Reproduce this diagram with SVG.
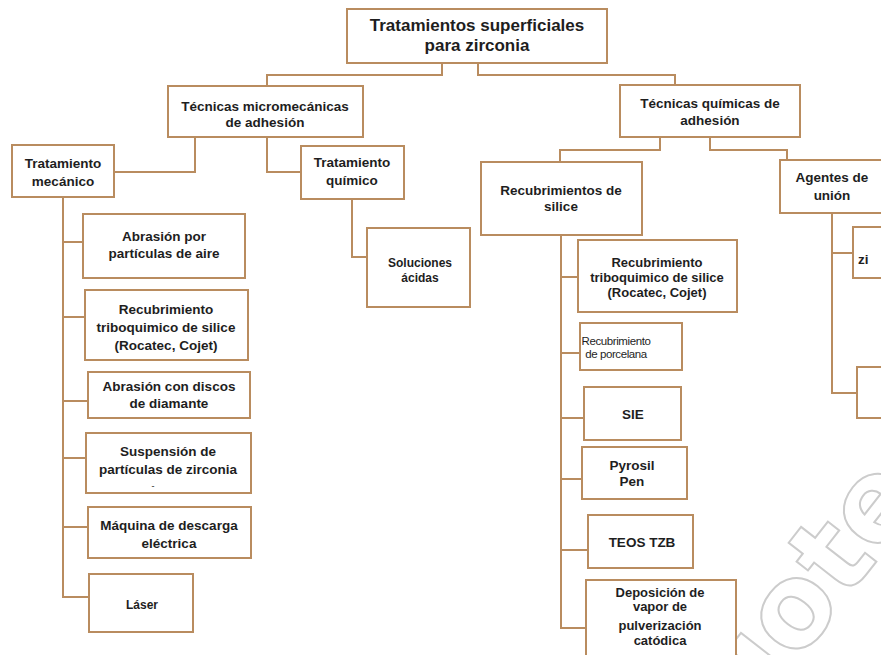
<svg xmlns="http://www.w3.org/2000/svg" width="881" height="655" viewBox="0 0 881 655">
<style>
.b{fill:#fff;stroke:#b98c5f;stroke-width:2}
.c{fill:none;stroke:#b98c5f;stroke-width:2}
text{font-family:"Liberation Sans",Arial,sans-serif;font-weight:bold;fill:#1e1e1e;text-anchor:middle}
.t1{font-size:17px}
.t2{font-size:13.5px}
.t3{font-size:12px}
.t5{font-size:13px}
.t4{font-size:11.5px;font-weight:normal;letter-spacing:-0.4px}
.wm{font-family:"DejaVu Sans",sans-serif;font-size:115px;font-weight:bold;fill:#fff;stroke:#cccccc;stroke-width:2;text-anchor:start}
</style>
<rect width="881" height="655" fill="#fff"/>
<text class="wm" transform="translate(748,726) rotate(-52)">lioteca</text>
<g id="connectors">
<path class="c" d="M442,63V75H267V86"/>
<path class="c" d="M478,63V75H675V86"/>
<path class="c" d="M195,137V172H114"/>
<path class="c" d="M267,137V172H301"/>
<path class="c" d="M660,137V150H560V162"/>
<path class="c" d="M710,137V150H787V160"/>
<path class="c" d="M63,197V597H89M63,242H83M63,317H85M63,401H88M63,458H86M63,527H88"/>
<path class="c" d="M352,199V257H367"/>
<path class="c" d="M561,235V628H586M561,277H578M561,353H580M561,418H584M561,479H582M561,550H588"/>
<path class="c" d="M832,213V393H857M832,253H853"/>
</g>
<g id="root"><rect class="b" x="347" y="9" width="260" height="54"/><text class="t1" x="477" y="31">Tratamientos superficiales</text><text class="t1" x="477" y="51">para zirconia</text></g>
<g id="micro"><rect class="b" x="168" y="86" width="195" height="51"/><text class="t2" x="265" y="111">Técnicas micromecánicas</text><text class="t2" x="265" y="127">de adhesión</text></g>
<g id="quimicas"><rect class="b" x="620" y="85" width="180" height="52"/><text class="t2" x="710" y="108">Técnicas químicas de</text><text class="t2" x="710" y="125">adhesión</text></g>
<g id="mecanico"><rect class="b" x="12" y="145" width="102" height="52"/><text class="t2" x="63" y="168">Tratamiento</text><text class="t2" x="63" y="186">mecánico</text></g>
<g id="quimico"><rect class="b" x="301" y="146" width="103" height="53"/><text class="t2" x="352" y="167">Tratamiento</text><text class="t2" x="352" y="185">químico</text></g>
<g id="recubrimientos"><rect class="b" x="481" y="162" width="161" height="73"/><text class="t2" x="561" y="195">Recubrimientos de</text><text class="t2" x="561" y="211">silice</text></g>
<g id="agentes"><rect class="b" x="780" y="160" width="110" height="53"/><text class="t2" x="832" y="182">Agentes de</text><text class="t2" x="832" y="200">unión</text></g>
<g id="abrasion-aire"><rect class="b" x="83" y="214" width="162" height="64"/><text class="t2" x="164" y="241">Abrasión por</text><text class="t2" x="164" y="258">partículas de aire</text></g>
<g id="tribo1"><rect class="b" x="85" y="290" width="163" height="70"/><text class="t2" x="166" y="314">Recubrimiento</text><text class="t2" x="166" y="332">triboquimico de silice</text><text class="t2" x="166" y="350">(Rocatec, Cojet)</text></g>
<g id="discos"><rect class="b" x="88" y="372" width="162" height="46"/><text class="t2" x="169" y="391">Abrasión  con discos</text><text class="t2" x="169" y="408">de diamante</text></g>
<g id="suspension"><rect class="b" x="86" y="433" width="165" height="60"/><text class="t2" x="168" y="456">Suspensión de</text><text class="t2" x="168" y="474">partículas de zirconia</text><text x="153" y="489" style="font-size:9px;font-weight:normal">-</text></g>
<g id="maquina"><rect class="b" x="88" y="507" width="163" height="51"/><text class="t2" x="169" y="530">Máquina de descarga</text><text class="t2" x="169" y="548">eléctrica</text></g>
<g id="laser"><rect class="b" x="89" y="574" width="104" height="58"/><text class="t3" x="142" y="609">Láser</text></g>
<g id="soluciones"><rect class="b" x="367" y="228" width="103" height="79"/><text class="t3" x="420" y="267">Soluciones</text><text class="t3" x="420" y="282">ácidas</text></g>
<g id="tribo2"><rect class="b" x="578" y="240" width="159" height="72"/><text class="t5" x="657" y="267">Recubrimiento</text><text class="t5" x="657" y="282">triboquimico de silice</text><text class="t5" x="657" y="297">(Rocatec, Cojet)</text></g>
<g id="porcelana"><rect class="b" x="580" y="323" width="102" height="47"/><text class="t4" x="616" y="345">Recubrimiento</text><text class="t4" x="616" y="358">de porcelana</text></g>
<g id="sie"><rect class="b" x="584" y="387" width="97" height="53"/><text class="t2" x="633" y="419">SIE</text></g>
<g id="pyrosil"><rect class="b" x="582" y="447" width="105" height="52"/><text class="t2" x="632" y="470">Pyrosil</text><text class="t2" x="632" y="486">Pen</text></g>
<g id="teos"><rect class="b" x="588" y="515" width="105" height="53"/><text class="t2" x="642" y="547">TEOS TZB</text></g>
<g id="deposicion"><rect class="b" x="586" y="580" width="150" height="85"/><text class="t5" x="660" y="597">Deposición de</text><text class="t5" x="660" y="611">vapor de</text><text class="t5" x="660" y="630">pulverización</text><text class="t5" x="660" y="645">catódica</text></g>
<g id="agente1"><rect class="b" x="853" y="227" width="40" height="51"/><text class="t2" x="858" y="264" style="text-anchor:start">zi</text></g>
<g id="agente2"><rect class="b" x="857" y="367" width="36" height="51"/></g>
</svg>
